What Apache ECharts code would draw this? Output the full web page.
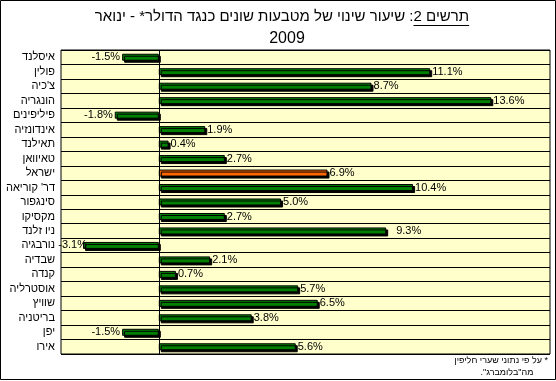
<!DOCTYPE html>
<html><head><meta charset="utf-8">
<script src="https://cdn.jsdelivr.net/npm/echarts@6/dist/echarts.min.js"></script>
<style>html,body{margin:0;padding:0;background:#fff}#c{width:556px;height:381px}</style>
</head><body><div id="c"></div>
<script>
const categories = ["איסלנד","פולין","צ'כיה","הונגריה","פיליפינים","אינדונזיה","תאילנד","טאיוואן","ישראל","דר' קוריאה","סינגפור","מקסיקו","ניו זלנד","נורבגיה","שבדיה","קנדה","אוסטרליה","שוויץ","בריטניה","יפן","אירו"];
const values = [-1.5, 11.1, 8.7, 13.6, -1.8, 1.9, 0.4, 2.7, 6.9, 10.4, 5.0, 2.7, 9.3, -3.1, 2.1, 0.7, 5.7, 6.5, 3.8, -1.5, 5.6];
const highlighted = "ישראל";
const titleLine1 = "תרשים 2: שיעור שינוי של מטבעות שונים כנגד הדולר* - ינואר";
const titleUnderlined = "תרשים 2";
const titleLine2 = "2009";
const footLine1 = "על פי נתוני שערי חליפין *";
const footLine2 = '."מה"בלומברג';

const GREEN = '#008000', ORANGE = '#FF6600';
const labelDistance = { "ניו זלנד": 10, "נורבגיה": -4 };
const FONT = 'Arial, "Liberation Sans", sans-serif';
const TITLE_FONT = '15px ' + FONT;

const data = values.map((v, i) => ({
  value: v,
  itemStyle: { color: categories[i] === highlighted ? ORANGE : GREEN },
  label: { position: v < 0 ? 'left' : 'right', distance: labelDistance[categories[i]] !== undefined ? labelDistance[categories[i]] : 2 }
}));

const mctx = document.createElement('canvas').getContext('2d');
mctx.font = TITLE_FONT;
const titleCX = 282;
const fullW = mctx.measureText(titleLine1).width;
const ulW = mctx.measureText(titleUnderlined).width;
const ulRight = titleCX + fullW / 2;

const chart = echarts.init(document.getElementById('c'), null, { renderer: 'canvas' });
chart.setOption({
  animation: false,
  backgroundColor: '#ffffff',
  grid: { left: 61, right: 6, top: 50, bottom: 27, show: true, backgroundColor: '#FFFFCC', borderColor: '#000', borderWidth: 1 },
  xAxis: { type: 'value', min: -4, max: 16, show: true, axisLine: { show: false }, axisTick: { show: false }, axisLabel: { show: false }, splitLine: { show: false } },
  yAxis: {
    type: 'category', data: categories, inverse: true,
    axisLine: { show: false, onZero: false }, axisTick: { show: false },
    axisLabel: { fontFamily: FONT, fontSize: 11, color: '#000', margin: 6 },
    splitLine: { show: true, lineStyle: { color: '#000', width: 1 } }
  },
  series: [{
    type: 'bar', data: data, barWidth: 7,
    itemStyle: { borderColor: '#000', borderWidth: 1, shadowColor: '#000', shadowBlur: 0, shadowOffsetX: 2, shadowOffsetY: 2 },
    label: { show: true, fontFamily: FONT, fontSize: 11, color: '#000', formatter: p => p.value.toFixed(1) + '%' },
    markLine: { silent: true, symbol: 'none', label: { show: false }, lineStyle: { color: '#000', width: 1, type: 'solid' }, data: [{ xAxis: 0 }] }
  }],
  graphic: [
    { type: 'rect', shape: { x: 0.5, y: 0.5, width: 555, height: 379 }, style: { fill: 'none', stroke: '#000', lineWidth: 1 }, z: 100 },
    { type: 'text', x: titleCX, y: 17, style: { text: titleLine1, font: TITLE_FONT, fill: '#000', textAlign: 'center', textVerticalAlign: 'middle' } },
    { type: 'text', x: 287, y: 39, style: { text: titleLine2, font: '16px ' + FONT, fill: '#000', textAlign: 'center', textVerticalAlign: 'middle' } },
    { type: 'line', shape: { x1: ulRight - ulW, y1: 25.5, x2: ulRight, y2: 25.5 }, style: { stroke: '#000', lineWidth: 1 } },
    { type: 'text', x: 548, y: 361, style: { text: footLine1, font: '9px ' + FONT, fill: '#000', textAlign: 'right', textVerticalAlign: 'middle' } },
    { type: 'text', x: 507, y: 373, style: { text: footLine2, font: '9px ' + FONT, fill: '#000', textAlign: 'center', textVerticalAlign: 'middle' } }
  ]
});
</script></body></html>
